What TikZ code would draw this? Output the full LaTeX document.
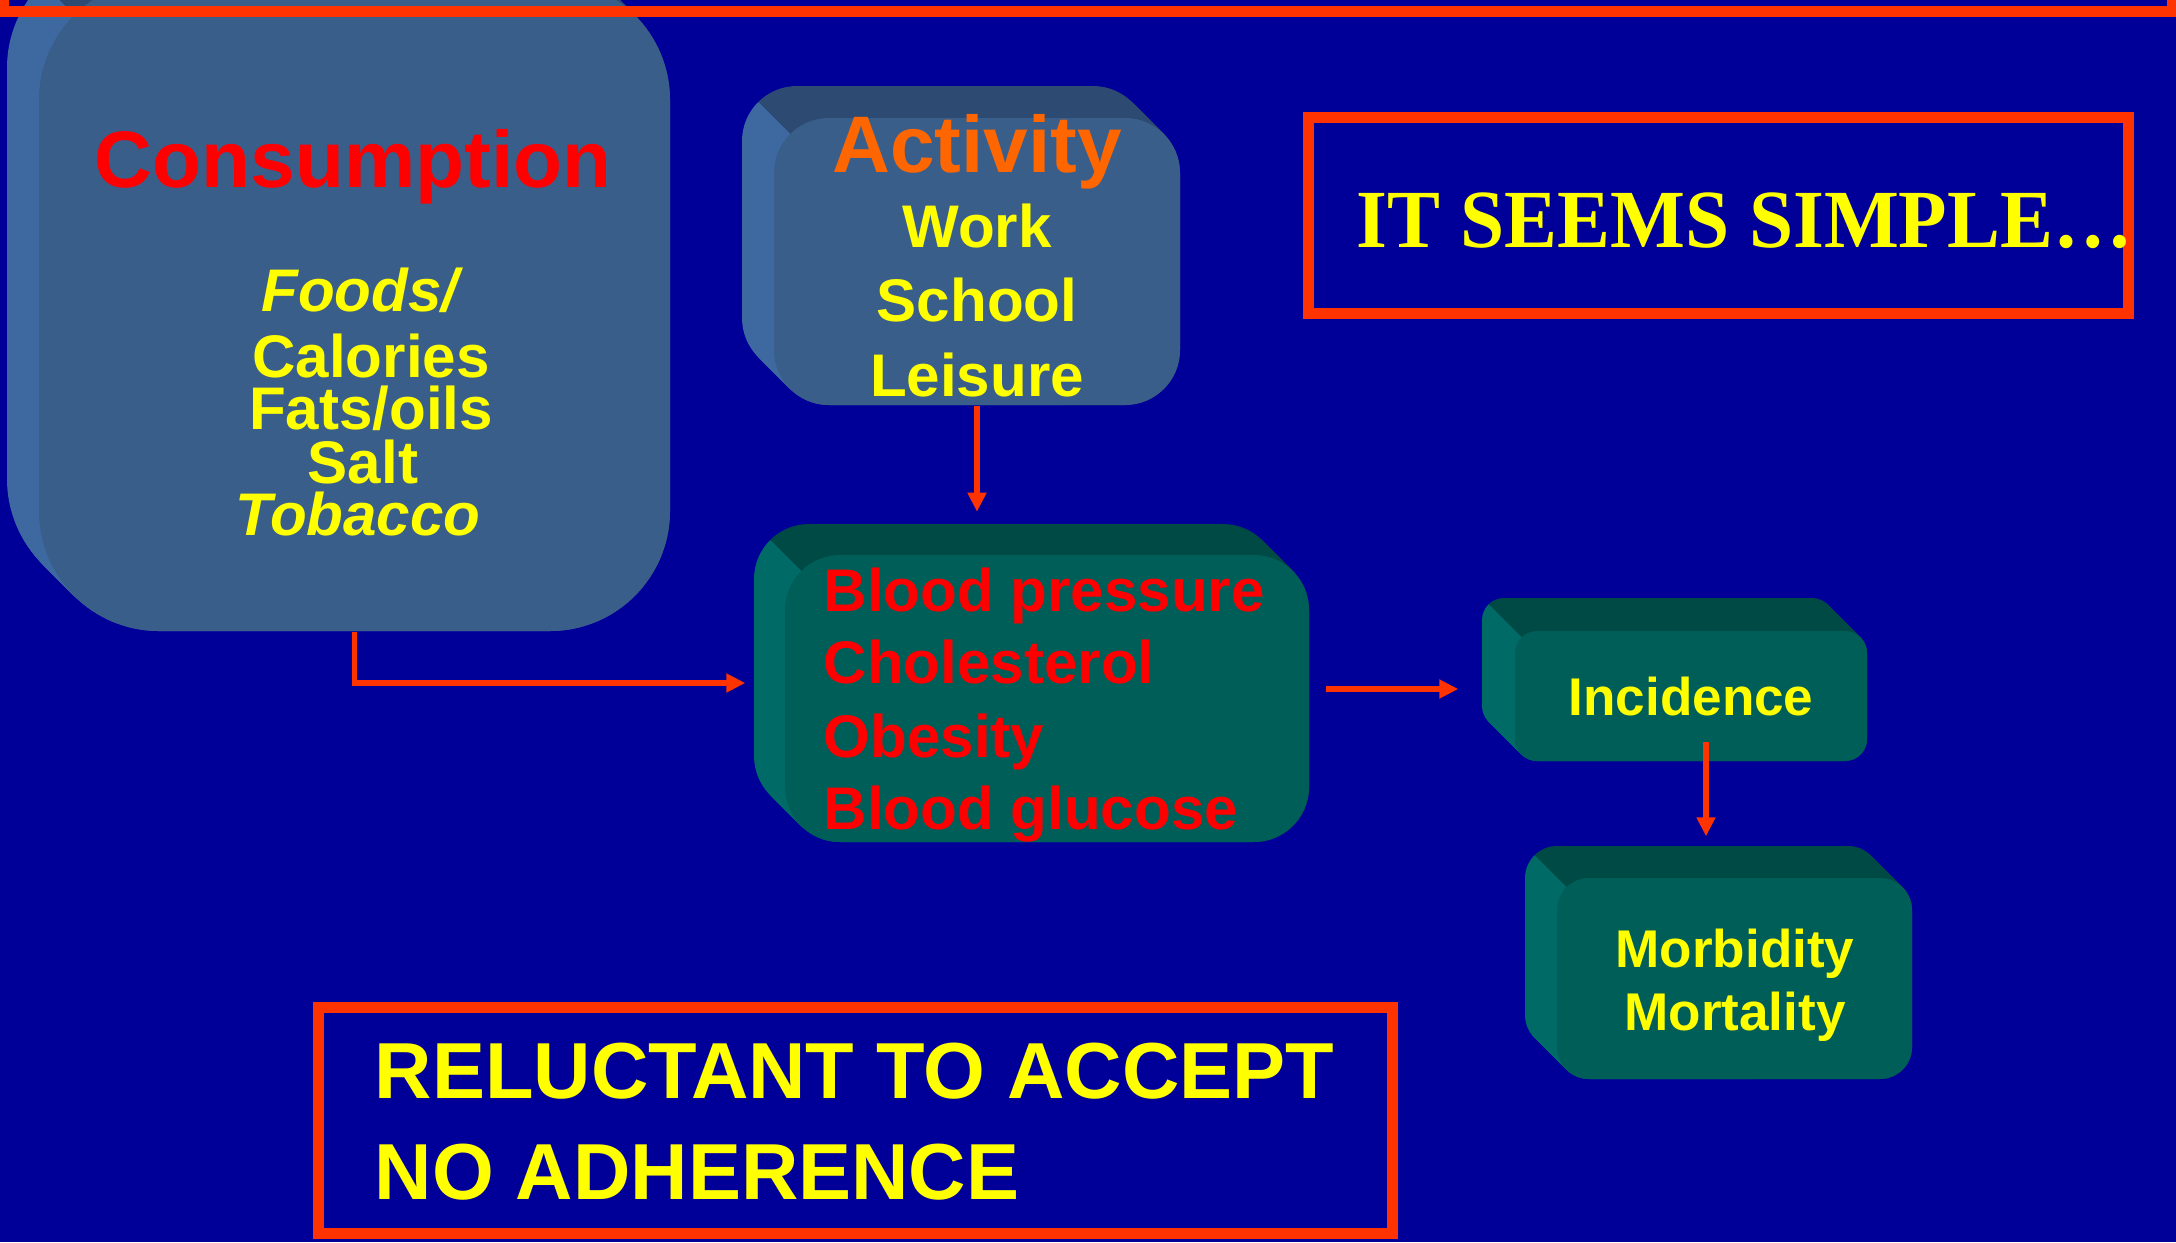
\documentclass[tikz,border=0pt]{standalone}
\usepackage{fontspec}
\setmainfont{Liberation Sans}
\newfontfamily\timesf{Liberation Serif}
\usetikzlibrary{arrows.meta,calc,fit}
\definecolor{bgblue}{HTML}{000099}
\definecolor{redl}{HTML}{FF3300}
\definecolor{pured}{HTML}{FF0000}
\definecolor{orng}{HTML}{FF6600}
\definecolor{yel}{HTML}{FFFF00}
\definecolor{bluefront}{HTML}{3A5E8A}
\definecolor{bluetop}{HTML}{2D4A72}
\definecolor{blueside}{HTML}{3D69A0}
\definecolor{tealfront}{HTML}{005E58}
\definecolor{tealtop}{HTML}{004A45}
\definecolor{tealside}{HTML}{006A66}
\newcommand{\solidbox}[8]{%
  \begin{scope}
    \clip (#2-3000,#3-3000) -- (#2+3000,#3+3000) -- (#2+3000,#3-3000) -- cycle;
    \foreach \k in {0,...,40}{
      \fill[#8top, rounded corners=#6] ({#2-#7+#7*\k/40},{#3-#7+#7*\k/40}) rectangle ({#4-#7+#7*\k/40},{#5-#7+#7*\k/40});
    }
  \end{scope}
  \begin{scope}
    \clip (#2-3000,#3-3000) -- (#2+3000,#3+3000) -- (#2-3000,#3+3000) -- cycle;
    \foreach \k in {0,...,40}{
      \fill[#8side, rounded corners=#6] ({#2-#7+#7*\k/40},{#3-#7+#7*\k/40}) rectangle ({#4-#7+#7*\k/40},{#5-#7+#7*\k/40});
    }
  \end{scope}
  \node[fit={(#2,#3) (#4,#5)}, inner sep=0pt, fill=#8front, rounded corners=#6] (#1) {};
}
\tikzset{
  txt/.style={anchor=base, inner sep=0pt, font=\bfseries},
  big/.style={txt, font=\bfseries\fontsize{22.8}{26}\selectfont},
  mid/.style={txt, font=\bfseries\fontsize{17.1}{20}\selectfont},
  midit/.style={txt, font=\bfseries\itshape\fontsize{17.1}{20}\selectfont},
  small/.style={txt, font=\bfseries\fontsize{15.1}{18}\selectfont},
  frame/.style={inner sep=0pt, draw=redl, line width=3.13pt},
  arr/.style={draw=redl, line width=1.6pt, -{Triangle[length=0.19cm, width=0.18cm]}},
}
\begin{document}
\begin{tikzpicture}[x=0.01cm, y=-0.01cm]
\useasboundingbox (0,0) rectangle (2176,1242);
\clip (0,0) rectangle (2176,1242);
\fill[bgblue] (0,0) rectangle (2176,1242);

% 3D boxes
\solidbox{cons}{39}{-20}{670}{631}{1.2cm}{32}{blue}
\solidbox{act}{774}{118}{1180}{405}{0.55cm}{32}{blue}
\solidbox{blood}{785}{555}{1309}{842}{0.55cm}{31}{teal}
\solidbox{inc}{1515}{631}{1867}{761}{0.22cm}{33}{teal}
\solidbox{morb}{1557}{878}{1912}{1079}{0.32cm}{32}{teal}

% top red frame
\node[fit={(3.5,-100) (2172.5,11.5)}, frame] (topframe) {};

% Consumption texts
\node[big, text=pured] (t1) at (353,187) {Consumption};
\node[midit, text=yel] (t2) at (360,311) {Foods/};
\node[mid, text=yel] (t3) at (371,377) {Calories};
\node[mid, text=yel] (t4) at (371,429) {Fats/oils};
\node[mid, text=yel] (t5) at (363,483) {Salt};
\node[midit, text=yel] (t6) at (358,535) {Tobacco};

% Activity texts
\node[big, text=orng] (a1) at (977,172) {Activity};
\node[mid, text=yel] (a2) at (977,247) {Work};
\node[mid, text=yel] (a3) at (977,321) {School};
\node[mid, text=yel] (a4) at (977,396) {Leisure};

% Blood texts
\node[mid, text=pured, anchor=base west] (b1) at (823,611) {Blood pressure};
\node[mid, text=pured, anchor=base west] (b2) at (823,683) {Cholesterol};
\node[mid, text=pured, anchor=base west] (b3) at (823,757) {Obesity};
\node[mid, text=pured, anchor=base west] (b4) at (823,829) {Blood glucose};

% Incidence / Morbidity
\node[small, text=yel] (i1) at (1691,715) {Incidence};
\node[small, text=yel] (m1) at (1735,967) {Morbidity};
\node[small, text=yel] (m2) at (1735,1030) {Mortality};

% IT SEEMS SIMPLE
\node[fit={(1308.5,117.5) (2128.5,313.5)}, frame] (simple) {};
\node[anchor=base west, inner sep=0pt, text=yel, font=\timesf\bfseries\fontsize{23.5}{26}\selectfont] (simpletxt) at (1356,247) {\scalebox{0.96}[1]{IT SEEMS SIMPLE\ldots}};

% RELUCTANT
\node[fit={(318.5,1007.5) (1392.5,1233.5)}, frame] (reluct) {};
\node[big, anchor=base west, text=yel, font=\bfseries\fontsize{22.6}{26}\selectfont] (r1) at (374,1098) {RELUCTANT TO ACCEPT};
\node[big, anchor=base west, text=yel, font=\bfseries\fontsize{22.6}{26}\selectfont] (r2) at (374,1199) {NO ADHERENCE};

% connectors
\coordinate (c1) at ($(blood.west)+(-39,-15.5)$);
\draw[arr] (cons.south) |- (c1);
\coordinate (c2) at ($(act.south)+(0,106)$);
\draw[arr] (act.south) -- (c2);
\coordinate (c3s) at ($(blood.east)+(16,-9.5)$);
\coordinate (c3e) at ($(inc.west)+(-56,-7)$);
\draw[arr] (c3s) -- (c3e);
\coordinate (c4s) at ($(inc.south)+(15,-20)$);
\coordinate (c4e) at ($(morb.north)+(-28.5,-41)$);
\draw[arr] (c4s) -- (c4e);
\end{tikzpicture}
\end{document}
